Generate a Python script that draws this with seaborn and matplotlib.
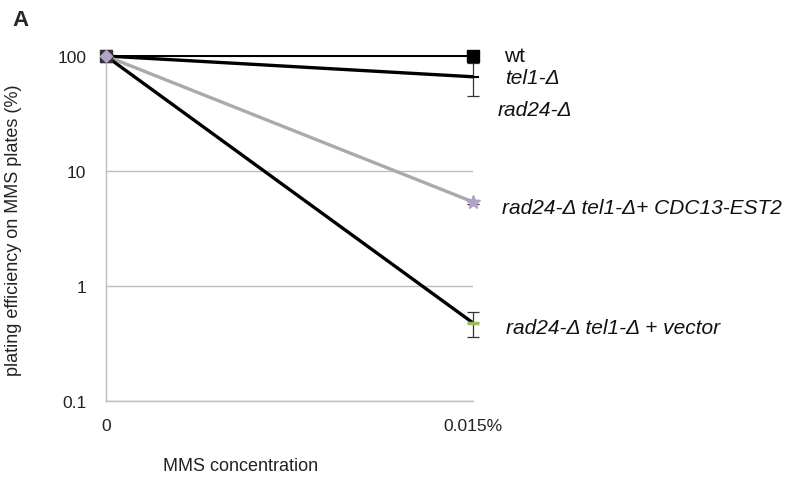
import matplotlib
matplotlib.use("Agg")
import matplotlib.pyplot as plt
import seaborn as sns
import pandas as pd
import numpy as np

sns.set_theme(style="white")
plt.rcParams['font.family'] = ['Liberation Sans', 'DejaVu Sans']

concentrations = ["0", "0.015%"]
wt = [100, 100]
rad24 = [100, 100]
tel1 = [100, 66]
tel1_err = [0, 21]
cdc13_est2 = [100, 5.4]
cdc13_err = [0, 0.25]
vector = [100, 0.48]
vector_err = [12, 0.12]

series_names = ["wt", "rad24-Δ", "tel1-Δ", "rad24-Δ tel1-Δ+ CDC13-EST2", "rad24-Δ tel1-Δ + vector"]
series_values = [wt, rad24, tel1, cdc13_est2, vector]
series_errors = [[0, 0], [0, 0], tel1_err, cdc13_err, vector_err]

rows = []
for name, vals in zip(series_names, series_values):
    for i, v in enumerate(vals):
        rows.append({"series": name, "x": i, "value": v})
df = pd.DataFrame(rows)

fig = plt.figure(figsize=(8.08, 4.81), dpi=100)
ax = fig.add_axes([0.131, 0.1642, 0.454, 0.7173])

colors = {
    "wt": "black",
    "rad24-Δ": "black",
    "tel1-Δ": "black",
    "rad24-Δ tel1-Δ+ CDC13-EST2": "#aaaaaa",
    "rad24-Δ tel1-Δ + vector": "black",
}
widths = {
    "wt": 1.3,
    "rad24-Δ": 1.3,
    "tel1-Δ": 2.4,
    "rad24-Δ tel1-Δ+ CDC13-EST2": 2.4,
    "rad24-Δ tel1-Δ + vector": 2.4,
}

for name, errs in zip(series_names, series_errors):
    sub = df[df.series == name]
    sns.lineplot(data=sub, x="x", y="value", ax=ax, color=colors[name],
                 linewidth=widths[name], legend=False, zorder=3)
    if any(e > 0 for e in errs):
        eb = ax.errorbar(sub["x"], sub["value"], yerr=errs, fmt="none",
                         ecolor="#333333", elinewidth=0.9, capsize=4, capthick=0.9, zorder=4)
        for art in eb.lines[1] + eb.lines[2]:
            art.set_clip_on(False)

for line in ax.lines:
    line.set_clip_on(False)

# markers
ax.plot([1], [wt[1]], marker="s", color="black", markersize=8, linestyle="none", zorder=5, clip_on=False)
ax.plot([0], [wt[0]], marker="s", color="#333333", markersize=8, linestyle="none", zorder=5, clip_on=False)
ax.plot([0], [vector[0]], marker="D", color="#b3a2c7", markersize=6, linestyle="none", zorder=6, clip_on=False)
ax.plot([1], [cdc13_est2[1]], marker="*", color="#b3a2c7", markersize=10, linestyle="none", zorder=6, clip_on=False)
ax.plot([1], [vector[1]], marker="_", color="#9bbb59", markersize=8, markeredgewidth=2.5,
        linestyle="none", zorder=6, clip_on=False)
ax.plot([1], [tel1[1]], marker="_", color="black", markersize=8, markeredgewidth=1.5,
        linestyle="none", zorder=6, clip_on=False)

ax.set_yscale("log")
ax.set_ylim(0.1, 100)
ax.set_xlim(0, 1)
ax.set_yticks([0.1, 1, 10, 100])
ax.set_yticklabels(["0.1", "1", "10", "100"])
ax.minorticks_off()
ax.set_xticks([0, 1])
ax.set_xticklabels(concentrations)
ax.yaxis.grid(True, color="#bdbdbd", linewidth=1)
ax.tick_params(axis="both", labelsize=12.5, colors="#222222", length=0)
ax.tick_params(axis="x", pad=12)
ax.tick_params(axis="y", pad=14)

for side in ["top", "right"]:
    ax.spines[side].set_visible(False)
for side in ["left", "bottom"]:
    ax.spines[side].set_color("#bdbdbd")
    ax.spines[side].set_linewidth(1)

ax.set_xlabel("")
ax.set_ylabel("")
fig.text(241 / 808, 1 - 467 / 481, "MMS concentration", fontsize=13, color="#222222",
         ha="center", va="center")
fig.text(14 / 808, 1 - 230 / 481, "plating efficiency on MMS plates (%)", fontsize=13,
         color="#222222", ha="center", va="center", rotation=90)

labels = [
    ("wt", 504, 57, "normal"),
    ("tel1-Δ", 505, 79, "italic"),
    ("rad24-Δ", 498, 111, "italic"),
    ("rad24-Δ tel1-Δ+ CDC13-EST2", 502, 208, "italic"),
    ("rad24-Δ tel1-Δ + vector", 506, 329, "italic"),
]
for txt, px, py, style in labels:
    fig.text(px / 808, 1 - py / 481, txt, fontsize=15, style=style, color="#111111",
             ha="left", va="center")

fig.text(12 / 808, 1 - 20 / 481, "A", fontsize=16, fontweight="bold", ha="left", va="center")

fig.savefig("out.png", dpi=100)
